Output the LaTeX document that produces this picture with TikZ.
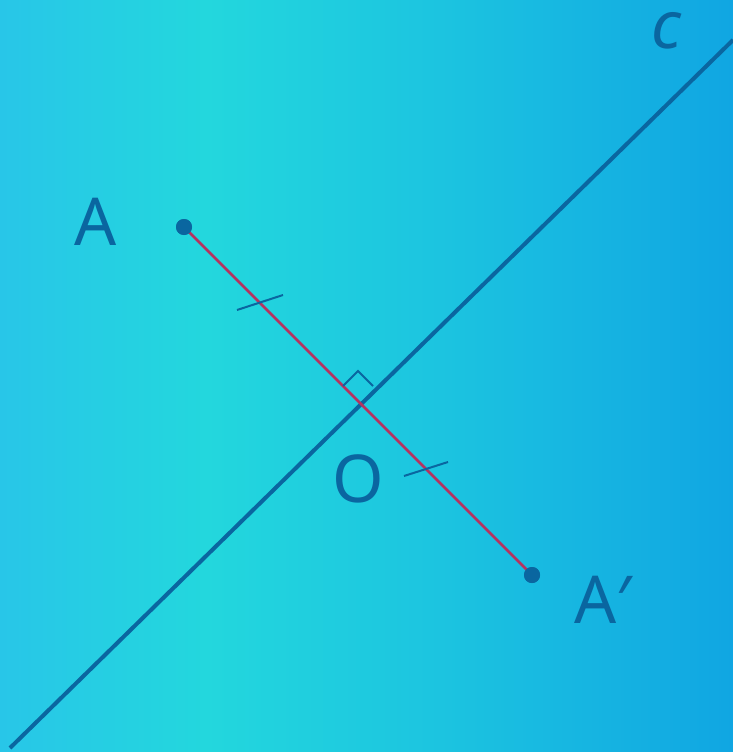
\documentclass[tikz,border=0pt]{standalone}
\usepackage{fontspec}
\setmainfont{Noto Sans}
\definecolor{bgL}{HTML}{28C6E8}
\definecolor{bgM}{HTML}{23D7DD}
\definecolor{bgN}{HTML}{1CC4E0}
\definecolor{bgR}{HTML}{10A6E2}
\definecolor{ink}{HTML}{0A66A0}
\definecolor{seg}{HTML}{B5335F}
\pgfdeclarehorizontalshading{bgshade}{100bp}{color(0bp)=(bgL); color(25bp)=(bgL); color(39bp)=(bgM); color(55bp)=(bgN); color(75bp)=(bgR); color(100bp)=(bgR)}
\tikzset{
  lbl/.style={text=ink, font=\fontsize{66}{70}\selectfont, inner sep=0pt},
  pt/.style={circle, fill=ink, minimum size=16pt, inner sep=0pt},
  tick/.style={draw=ink, line width=2pt},
}
\begin{document}
\begin{tikzpicture}[x=1pt,y=-1pt]
\useasboundingbox (0,0) rectangle (733,752);
\shade[shading=bgshade] (0,0) rectangle (733,752);
% line c
\coordinate (c1) at (10,748);
\coordinate (c2) at (733,40);
\draw[ink, line width=4pt] (c1) -- (c2);
% points
\node[pt] (A) at (184,227) {};
\node[pt] (Ap) at (532,575) {};
\draw[seg, line width=2.5pt] (A.center) -- (Ap.center);
\node[pt] at (A) {};
\node[pt] at (Ap) {};
% ticks
\coordinate (t1a) at (237,310);
\coordinate (t1b) at (283,295);
\coordinate (t2a) at (404,476);
\coordinate (t2b) at (448,462);
\draw[tick] (t1a) -- (t1b);
\draw[tick] (t2a) -- (t2b);
% right angle
\coordinate (r1) at (343,386);
\coordinate (r2) at (358,371);
\coordinate (r3) at (373,386);
\draw[tick] (r1) -- (r2) -- (r3);
% labels
\node[lbl] (lA) at (96,222) {A};
\node[lbl] (lO) at (358,479) {O};
\node[lbl] (lAp) at (603,600) {A′};
\node[lbl, font=\fontsize{66}{70}\selectfont\itshape] (lc) at (666,31) {c};
\end{tikzpicture}
\end{document}
